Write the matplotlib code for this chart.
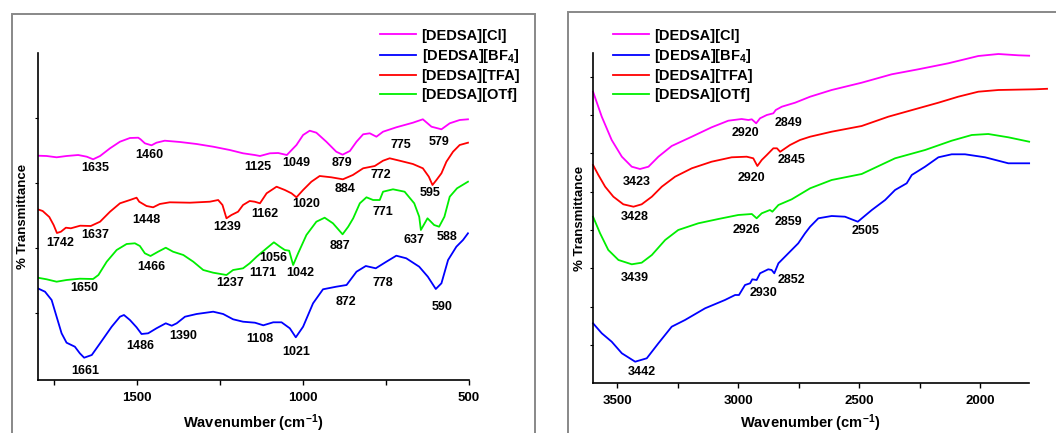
import matplotlib
matplotlib.use("Agg")
import matplotlib.pyplot as plt
from matplotlib.patches import Rectangle

plt.rcParams['font.family'] = ['Liberation Sans', 'DejaVu Sans']
plt.rcParams['font.weight'] = 'bold'
plt.rcParams['mathtext.default'] = 'regular'

# FT-IR spectra, fingerprint region (1800-500 cm-1)
fp_cl_wn = [1800, 1773, 1743, 1713, 1678, 1652, 1633, 1612, 1582, 1552, 1522, 1497, 1490,
            1477, 1457, 1442, 1417, 1371, 1321, 1271, 1221, 1181, 1146, 1130, 1100, 1075,
            1049, 1020, 1000, 980, 960, 930, 900, 881, 859, 839, 819, 799, 779, 759, 719,
            669, 639, 613, 583, 558, 528, 503]
fp_cl_t = [224.3, 224, 222.7, 224, 225, 223.3, 220.7, 224, 231.7, 238.3, 242, 242.3, 240.7,
           236.7, 234.7, 237.3, 239.3, 238, 236, 233.3, 230, 226.7, 225, 224, 226.7, 227,
           225, 235, 245, 249.3, 247.3, 238.3, 228.3, 225.3, 229, 238.3, 245.7, 246.7, 243.3,
           248.3, 252.7, 257.3, 260.7, 253.3, 250.7, 256.7, 260, 260.7]

fp_bf4_wn = [1800, 1778, 1758, 1743, 1728, 1713, 1688, 1673, 1660, 1637, 1612, 1577, 1552,
             1540, 1522, 1502, 1487, 1467, 1442, 1414, 1396, 1381, 1356, 1321, 1271, 1241,
             1211, 1181, 1145, 1120, 1090, 1065, 1040, 1022, 1000, 970, 940, 900, 869, 839,
             811, 781, 749, 719, 689, 650, 624, 600, 583, 563, 538, 518, 503]
fp_bf4_t = [91.7, 88.3, 80, 63.3, 46.7, 37.3, 33.3, 26.7, 22.3, 25, 36.7, 53.3, 63.3,
            65, 60, 52.7, 46, 46.7, 51.7, 56.7, 54.3, 56.7, 63.3, 66, 68.3, 66,
            60.7, 58.3, 57.3, 54.7, 57.7, 57.7, 51.7, 42.7, 53.3, 76.7, 90.7, 93.3, 95, 108.3,
            114, 111.7, 118.3, 124.3, 121.7, 113.3, 103.3, 91, 96.7, 120, 133.3, 140, 146.7]

fp_tfa_wn = [1800, 1785, 1765, 1752, 1742, 1730, 1715, 1700, 1672, 1640, 1612, 1582, 1552,
             1522, 1502, 1494, 1472, 1452, 1432, 1402, 1341, 1281, 1256, 1243, 1231, 1216,
             1196, 1181, 1161, 1146, 1130, 1110, 1080, 1055, 1035, 1020, 1000, 975, 950, 915,
             880, 850, 819, 784, 759, 739, 709, 669, 639, 621, 610, 598, 583, 568, 548, 528, 503]
fp_tfa_t = [170.7, 169, 163, 155, 147, 148.3, 152.3, 151.7, 154.3, 154, 158.3, 168.3, 176.7,
            180, 182.3, 178.3, 174, 172.7, 176, 177.7, 177.3, 178.3, 180, 175, 161.7, 165,
            168.3, 175, 179, 178.3, 176.7, 186.7, 193.3, 190, 186.7, 182.7, 190, 198.3, 204, 202.7,
            200.7, 205, 211.7, 214, 219.3, 221.7, 219.3, 216, 211.7, 203.3, 195, 200, 206.7, 218.3,
            228.3, 235, 237.3]

fp_otf_wn = [1800, 1773, 1743, 1713, 1673, 1633, 1617, 1592, 1562, 1532, 1507, 1492, 1477,
             1460, 1437, 1414, 1392, 1361, 1331, 1301, 1271, 1231, 1211, 1181, 1161, 1140,
             1110, 1088, 1070, 1055, 1042, 1030, 1015, 990, 960, 935, 910, 881, 864, 849, 829,
             809, 789, 769, 759, 729, 694, 665, 650, 645, 625, 605, 590, 574, 558, 536, 503]
fp_otf_t = [102.3, 100.7, 98.3, 100, 101.3, 101, 105, 118.3, 130, 136, 136.7, 134, 126.7,
            124, 128.3, 132.3, 128.3, 125, 118.3, 110, 107.3, 105, 110, 111.7, 116.7, 123.3,
            131.7, 137.7, 133.3, 130, 129.3, 115, 126.7, 145, 158.3, 162.3, 156.7, 145.7, 153.3,
            161.7, 176.7, 182.7, 180, 180, 188.3, 190.7, 188.3, 176.7, 163.3, 150, 161.7, 155,
            153.3, 163.3, 183.3, 191.7, 198.3]

# FT-IR spectra, high wavenumber region (3600-1800 cm-1)
hw_cl_wn = [3600, 3564, 3523, 3481, 3440, 3406, 3371, 3330, 3275, 3192, 3110, 3041, 2986,
            2958, 2944, 2926, 2910, 2882, 2855, 2845, 2820, 2765, 2703, 2614, 2490, 2366,
            2256, 2132, 2008, 1925, 1843, 1798]
hw_cl_t = [291.6, 266.6, 243.3, 226.6, 216.6, 214.3, 216.6, 226.6, 237.3, 246.6, 256, 262.6,
           264.3, 263.3, 264, 260, 265, 268.3, 270, 273.3, 276.6, 280.6, 286.6, 293.3, 300.6,
           309, 314, 320, 327.3, 329.3, 328, 327.6]

hw_bf4_wn = [3600, 3564, 3523, 3481, 3426, 3378, 3330, 3275, 3220, 3137, 3055, 3013, 2997,
             2972, 2951, 2942, 2924, 2910, 2876, 2862, 2851, 2834, 2793, 2752, 2724, 2703,
             2669, 2614, 2559, 2506, 2448, 2393, 2352, 2304, 2283, 2228, 2173, 2118, 2063,
             1980, 1884, 1798]
hw_bf4_t = [60, 50, 41.6, 30, 21.6, 25, 40, 56.6, 63.3, 75, 83.3, 88.3, 88.3,
            98.3, 100, 104, 103.3, 110, 114, 113.3, 110, 120, 130, 140, 150, 156.6,
            165, 167.3, 166.6, 161.6, 173.3, 183.3, 193.3, 200, 208.3, 216.6, 226, 229, 229,
            226, 220, 220]

hw_tfa_wn = [3600, 3578, 3550, 3516, 3475, 3433, 3399, 3357, 3316, 3261, 3192, 3110, 3027,
             2965, 2938, 2921, 2903, 2882, 2855, 2840, 2827, 2786, 2745, 2703, 2614, 2490,
             2380, 2256, 2173, 2091, 2008, 1925, 1774, 1724]
hw_tfa_t = [218.3, 208.3, 196.6, 186.6, 179, 176.6, 179, 186.6, 196.6, 206.6, 215, 221.6, 226,
            226.6, 225, 217.3, 223.3, 228.3, 235, 235, 231.5, 238.3, 243.3, 246.6, 251.6, 257.3,
            266.6, 275, 280.6, 286.6, 291.6, 293.3, 294, 294.5]

hw_otf_wn = [3600, 3571, 3537, 3495, 3440, 3399, 3357, 3302, 3248, 3165, 3082, 3000, 2944,
             2924, 2903, 2869, 2859, 2834, 2779, 2703, 2614, 2490, 2352, 2228, 2118, 2035,
             1967, 1884, 1798]
hw_otf_t = [166.6, 150, 133.3, 123.3, 119, 120.6, 128.3, 143.3, 153.3, 160, 164.3, 168.3, 169.3,
            165, 170, 173.3, 171.6, 178.3, 184, 195, 203.3, 209.3, 225, 233.3, 242.6, 248.3,
            249.3, 246, 241.6]

names = ['[DEDSA][Cl]', '[DEDSA][BF$_4$]', '[DEDSA][TFA]', '[DEDSA][OTf]']
colors = ['#ff00ff', '#0000ff', '#ff0000', '#00ee00']

# peak annotations: (text, wavenumber, height)
fp_peaks = [('1635', 1627, 212), ('1460', 1464, 225), ('1125', 1138, 213), ('1049', 1021, 217),
            ('879', 883, 217), ('775', 705, 235), ('579', 591, 238),
            ('1742', 1731, 137.3), ('1637', 1627, 145), ('1448', 1472, 160), ('1239', 1229, 153.3),
            ('1162', 1115, 166), ('1020', 992, 176), ('884', 874, 190.7), ('772', 765, 205),
            ('595', 618, 186.7),
            ('1650', 1661, 92.3), ('1466', 1457, 113.3), ('1237', 1221, 96.7), ('1171', 1120, 106.7),
            ('1056', 1090, 121.7), ('1042', 1010, 107.3), ('887', 889, 134), ('771', 759, 168.3),
            ('637', 666, 140), ('588', 566, 142.7),
            ('1661', 1658, 9.3), ('1486', 1492, 34), ('1390', 1361, 44.3), ('1108', 1130, 40.7),
            ('1021', 1020, 28.3), ('872', 871, 78.3), ('778', 759, 96.7), ('590', 581, 73.3)]

hw_peaks = [('3423', 3420, 201), ('2920', 2972, 250.6), ('2849', 2793, 260.6),
            ('3428', 3426, 166.6), ('2920', 2944, 205), ('2845', 2779, 223.3),
            ('3439', 3426, 105.6), ('2926', 2965, 153.3), ('2859', 2793, 161.6),
            ('3442', 3399, 11), ('2930', 2896, 90), ('2852', 2779, 103.3), ('2505', 2473, 152.3)]

fig = plt.figure(figsize=(10.56, 4.33), dpi=100)

# grey boxes around each panel
fig.add_artist(Rectangle((0.0114, -0.1), 0.4953, 1.0677, transform=fig.transFigure,
                         fill=False, edgecolor='#888888', lw=1.4))
fig.add_artist(Rectangle((0.5376, -0.1), 0.6, 1.0723, transform=fig.transFigure,
                         fill=False, edgecolor='#888888', lw=1.4))

ax1 = fig.add_axes([0.0357, 0.1224, 0.4084, 0.7552])
ax2 = fig.add_axes([0.5616, 0.1148, 0.4125, 0.7628])

for wn, t, c, n in zip([fp_cl_wn, fp_bf4_wn, fp_tfa_wn, fp_otf_wn],
                       [fp_cl_t, fp_bf4_t, fp_tfa_t, fp_otf_t], colors, names):
    ax1.plot(wn, t, color=c, lw=1.3, label=n)

for wn, t, c, n in zip([hw_cl_wn, hw_bf4_wn, hw_tfa_wn, hw_otf_wn],
                       [hw_cl_t, hw_bf4_t, hw_tfa_t, hw_otf_t], colors, names):
    ax2.plot(wn, t, color=c, lw=1.3, label=n, clip_on=False)

for txt, x, y in fp_peaks:
    ax1.text(x, y, txt, ha='center', va='center', fontsize=9, fontweight='bold')
for txt, x, y in hw_peaks:
    ax2.text(x, y, txt, ha='center', va='center', fontsize=9, fontweight='bold')

ax1.set_xlim(1800, 500)
ax1.set_ylim(0, 327)
ax1.set_xticks([1500, 1000, 500])
ax1.set_xticks([1750, 1250, 750], minor=True)
ax1.set_yticks([67, 132, 197, 262])

ax2.set_xlim(3600, 1800)
ax2.set_ylim(0, 330.3)
ax2.set_xticks([3500, 3000, 2500, 2000])
ax2.set_xticks([3250, 2750, 2250], minor=True)
ax2.set_yticks([38, 76, 115, 153, 191, 230, 268, 306])

for ax in (ax1, ax2):
    ax.spines['top'].set_visible(False)
    ax.spines['right'].set_visible(False)
    ax.spines['left'].set_linewidth(1.2)
    ax.spines['bottom'].set_linewidth(1.2)
    ax.set_yticklabels([])
    ax.tick_params(axis='x', which='both', direction='out', length=3.5, width=1,
                   labelsize=9.5, pad=5)
    ax.tick_params(axis='y', direction='out', length=2, width=0.8)
    ax.set_xlabel('Wavenumber (cm$^{-1}$)', fontsize=10.5, fontweight='bold')
    ax.set_ylabel('% Transmittance', fontsize=9.5, fontweight='bold')
    ax.set_facecolor('none')

ax1.xaxis.set_label_coords(0.499, -0.1)
ax1.yaxis.set_label_coords(-0.02, 0.5)
ax2.xaxis.set_label_coords(0.498, -0.088)
ax2.yaxis.set_label_coords(-0.016, 0.5)

for ax, x0 in ((ax1, 0.3598), (ax2, 0.5802)):
    h, l = ax.get_legend_handles_labels()
    fig.legend(h, l, loc='upper left', bbox_to_anchor=(x0, 0.934), frameon=False,
               fontsize=10.5, handlelength=2.5, handletextpad=0.35, labelspacing=0.3,
               borderpad=0, borderaxespad=0)

plt.savefig('out.png', dpi=100)
